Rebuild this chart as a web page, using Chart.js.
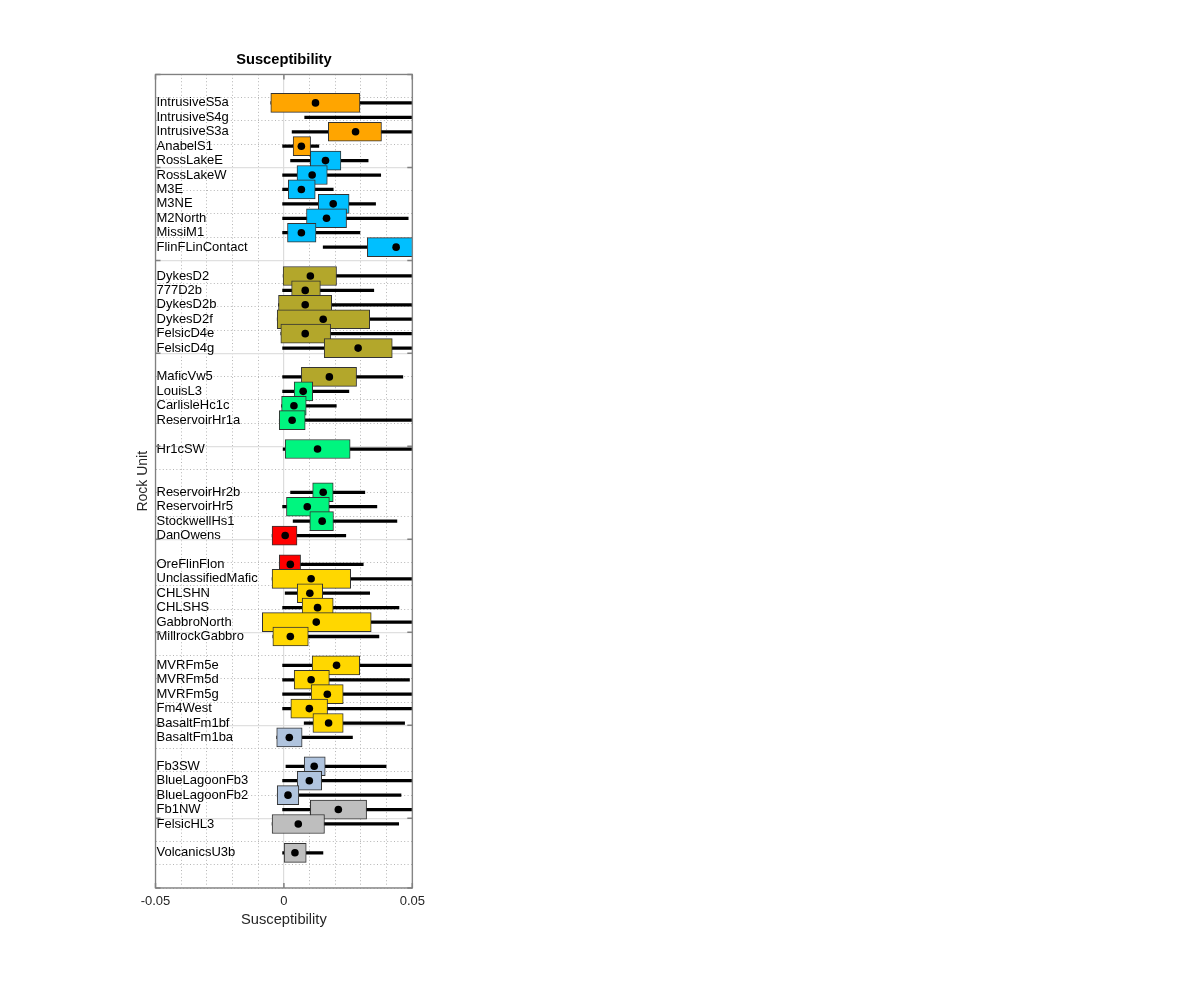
<!DOCTYPE html>
<html>
<head>
<meta charset="utf-8">
<title>Susceptibility</title>
<script src="https://cdn.jsdelivr.net/npm/chart.js@4.4.1/dist/chart.umd.min.js"></script>
<style>
  html, body { margin: 0; padding: 0; background: #fff; }
</style>
</head>
<body>
<canvas id="chart" width="1200" height="999"></canvas>
<script>
// rows top to bottom, '' = empty row
const units = [
  'IntrusiveS5a', 'IntrusiveS4g', 'IntrusiveS3a', 'AnabelS1', 'RossLakeE', 'RossLakeW', 'M3E', 'M3NE',
  'M2North', 'MissiM1', 'FlinFLinContact', '',
  'DykesD2', '777D2b', 'DykesD2b', 'DykesD2f', 'FelsicD4e', 'FelsicD4g', '',
  'MaficVw5', 'LouisL3', 'CarlisleHc1c', 'ReservoirHr1a', '',
  'Hr1cSW', '', '',
  'ReservoirHr2b', 'ReservoirHr5', 'StockwellHs1', 'DanOwens', '',
  'OreFlinFlon', 'UnclassifiedMafic', 'CHLSHN', 'CHLSHS', 'GabbroNorth', 'MillrockGabbro', '',
  'MVRFm5e', 'MVRFm5d', 'MVRFm5g', 'Fm4West', 'BasaltFm1bf', 'BasaltFm1ba', '',
  'Fb3SW', 'BlueLagoonFb3', 'BlueLagoonFb2', 'Fb1NW', 'FelsicHL3', '',
  'VolcanicsU3b'
];
const groups = [
  'orange', 'orange', 'orange', 'orange', 'blue', 'blue', 'blue', 'blue',
  'blue', 'blue', 'blue', null,
  'olive', 'olive', 'olive', 'olive', 'olive', 'olive', null,
  'olive', 'green', 'green', 'green', null,
  'green', null, null,
  'green', 'green', 'green', 'red', null,
  'red', 'gold', 'gold', 'gold', 'gold', 'gold', null,
  'gold', 'gold', 'gold', 'gold', 'gold', 'steel', null,
  'steel', 'steel', 'steel', 'grey', 'grey', null,
  'grey'
];
const whiskerLow = [
  -0.0051, 0.0081, 0.0032, -0.0005, 0.0026, -0.0005, -0.0005, -0.0005,
  -0.0005, -0.0005, 0.0153, null,
  -0.0003, -0.0005, -0.0021, -0.0026, -0.0012, -0.0005, null,
  -0.0005, -0.0005, -0.0009, -0.0018, null,
  -0.0003, null, null,
  0.0026, -0.0005, 0.0036, -0.0046, null,
  -0.0018, -0.0046, 0.0005, -0.0005, -0.0084, -0.0043, null,
  -0.0005, -0.0005, -0.0005, -0.0005, 0.0079, -0.0028, null,
  0.0008, -0.0005, -0.0026, -0.0005, -0.0046, null,
  -0.0005
];
const boxLow = [
  -0.0051, 0.056, 0.0173, 0.0036, 0.0103, 0.0051, 0.0017, 0.0134,
  0.0088, 0.0014, 0.0325, null,
  -0.0003, 0.0030, -0.0021, -0.0026, -0.0012, 0.0157, null,
  0.0068, 0.0040, -0.0009, -0.0018, null,
  0.0005, null, null,
  0.0112, 0.0010, 0.0101, -0.0046, null,
  -0.0018, -0.0046, 0.0052, 0.0071, -0.0084, -0.0043, null,
  0.0110, 0.0040, 0.0106, 0.0027, 0.0113, -0.0028, null,
  0.0079, 0.0052, -0.0026, 0.0103, -0.0046, null,
  0.0001
];
const median = [
  0.0123, 0.070, 0.0279, 0.0068, 0.0162, 0.0110, 0.0068, 0.0192,
  0.0166, 0.0068, 0.0437, null,
  0.0103, 0.0083, 0.0083, 0.0153, 0.0083, 0.0289, null,
  0.0177, 0.0075, 0.0039, 0.0032, null,
  0.0131, null, null,
  0.0153, 0.0091, 0.0149, 0.0005, null,
  0.0025, 0.0106, 0.0101, 0.0131, 0.0126, 0.0025, null,
  0.0205, 0.0106, 0.0169, 0.0099, 0.0174, 0.0021, null,
  0.0118, 0.0099, 0.0016, 0.0212, 0.0056, null,
  0.0043
];
const boxHigh = [
  0.0296, 0.090, 0.0380, 0.0104, 0.0222, 0.0169, 0.0122, 0.0254,
  0.0244, 0.0125, 0.056, null,
  0.0205, 0.0142, 0.0186, 0.0334, 0.0182, 0.0422, null,
  0.0283, 0.0112, 0.0087, 0.0083, null,
  0.0258, null, null,
  0.0192, 0.0177, 0.0193, 0.0051, null,
  0.0065, 0.0260, 0.0151, 0.0192, 0.0340, 0.0095, null,
  0.0295, 0.0177, 0.0231, 0.0170, 0.0231, 0.0071, null,
  0.0161, 0.0147, 0.0058, 0.0322, 0.0158, null,
  0.0087
];
const whiskerHigh = [
  0.09, 0.13, 0.08, 0.0136, 0.0328, 0.0377, 0.0192, 0.0357,
  0.0484, 0.0296, 0.09, null,
  0.08, 0.0350, 0.08, 0.09, 0.08, 0.09, null,
  0.0463, 0.0253, 0.0204, 0.08, null,
  0.08, null, null,
  0.0315, 0.0362, 0.0440, 0.0241, null,
  0.0309, 0.08, 0.0334, 0.0448, 0.08, 0.0370, null,
  0.08, 0.0489, 0.08, 0.08, 0.0470, 0.0267, null,
  0.0398, 0.08, 0.0456, 0.08, 0.0447, null,
  0.0152
];
const xTicks = [-0.05, 0, 0.05];
const xTickLabels = ['-0.05', '0', '0.05'];

const groupColors = {
  orange: '#ffa500',
  blue: '#00bfff',
  olive: '#b3a72b',
  green: '#00f57f',
  red: '#ff0000',
  gold: '#ffd700',
  steel: '#b0c4de',
  grey: '#bebebe'
};

const FONT = "'Liberation Sans', Arial, Helvetica, sans-serif";

const rows = units.map((u, i) => i).filter(i => units[i] !== '');

// frame and inward tick marks like the original axes box
const frame = {
  id: 'frame',
  afterDraw(chart) {
    const { ctx, chartArea: a, scales } = chart;
    ctx.save();
    ctx.strokeStyle = '#808080';
    ctx.lineWidth = 1.5;
    ctx.beginPath();
    scales.yMajor.ticks.forEach(t => {
      const py = scales.yMajor.getPixelForValue(t.value);
      ctx.moveTo(a.left, py); ctx.lineTo(a.left + 5, py);
      ctx.moveTo(a.right, py); ctx.lineTo(a.right - 5, py);
    });
    scales.x.ticks.forEach(t => {
      const px = scales.x.getPixelForValue(t.value);
      ctx.moveTo(px, a.top); ctx.lineTo(px, a.top + 5);
      ctx.moveTo(px, a.bottom); ctx.lineTo(px, a.bottom - 5);
    });
    ctx.stroke();
    ctx.lineWidth = 1.3;
    ctx.strokeRect(a.left, a.top, a.right - a.left, a.bottom - a.top);
    ctx.restore();
  }
};

new Chart(document.getElementById('chart'), {
  type: 'bar',
  data: {
    datasets: [
      {
        type: 'scatter',
        data: rows.map(i => ({ x: median[i], y: i })),
        xAxisID: 'x',
        yAxisID: 'y',
        pointRadius: 3.8,
        pointBackgroundColor: '#000',
        pointBorderWidth: 0,
        clip: 0,
        order: 0
      },
      {
        type: 'bar',
        indexAxis: 'y',
        data: rows.map(i => ({ x: [boxLow[i], boxHigh[i]], y: i })),
        xAxisID: 'x',
        yAxisID: 'y',
        backgroundColor: rows.map(i => groupColors[groups[i]]),
        borderColor: '#333',
        borderWidth: 1,
        borderSkipped: false,
        barThickness: 19,
        grouped: false,
        clip: 0,
        order: 1
      },
      {
        type: 'bar',
        indexAxis: 'y',
        data: rows.map(i => ({ x: [whiskerLow[i], whiskerHigh[i]], y: i })),
        xAxisID: 'x',
        yAxisID: 'y',
        backgroundColor: '#000',
        borderWidth: 0,
        barThickness: 2.6,
        grouped: false,
        clip: 0,
        order: 2
      }
    ]
  },
  options: {
    responsive: false,
    animation: false,
    layout: {
      autoPadding: false,
      padding: { left: 134.6, right: 787.7, top: 51.2, bottom: 69 }
    },
    plugins: {
      legend: { display: false },
      tooltip: { enabled: false },
      title: {
        display: true,
        text: 'Susceptibility',
        fullSize: false,
        color: '#000',
        font: { family: FONT, size: 14.7, weight: 'bold' },
        padding: { top: 0, bottom: 5.6 }
      }
    },
    scales: {
      xMinor: {
        type: 'linear',
        position: 'bottom',
        offset: false,
        min: -0.05, max: 0.05,
        ticks: { display: false, stepSize: 0.01 },
        grid: { color: '#b5b5b5', lineWidth: 1, drawTicks: false, offset: false },
        border: { display: false, dash: [1, 2.4] },
        afterFit: s => { s.height = 0; }
      },
      yMinor: {
        type: 'linear',
        position: 'left',
        offset: false,
        reverse: true,
        min: 0, max: 35,
        ticks: { display: false, stepSize: 1 },
        grid: { color: '#b5b5b5', lineWidth: 1, drawTicks: false, offset: false },
        border: { display: false, dash: [1, 2.4] },
        afterFit: s => { s.width = 0; }
      },
      yMajor: {
        type: 'linear',
        position: 'left',
        offset: false,
        reverse: true,
        min: 0, max: 35,
        ticks: { display: false, stepSize: 4 },
        grid: { color: '#e0e0e0', lineWidth: 1.2, drawTicks: false, offset: false },
        border: { display: false },
        afterFit: s => { s.width = 0; }
      },
      x: {
        type: 'linear',
        position: 'bottom',
        offset: false,
        min: -0.05, max: 0.05,
        afterBuildTicks: s => { s.ticks = xTicks.map(v => ({ value: v })); },
        ticks: {
          color: '#262626',
          padding: 6,
          font: { family: FONT, size: 13 },
          callback: (v, i) => xTickLabels[i]
        },
        grid: { color: '#dcdcdc', lineWidth: 1.2, drawTicks: false, offset: false },
        border: { display: false },
        title: {
          display: true,
          text: 'Susceptibility',
          color: '#262626',
          font: { family: FONT, size: 14.7 },
          padding: { top: 0, bottom: 1.6 }
        },
        afterFit: s => { s.height = 42; }
      },
      y: {
        type: 'linear',
        position: 'left',
        offset: false,
        reverse: true,
        min: -1.975, max: 54.44,
        afterBuildTicks: s => { s.ticks = rows.map(i => ({ value: i })); },
        ticks: {
          mirror: true,
          autoSkip: false,
          padding: 1,
          color: '#000',
          font: { family: FONT, size: 13 },
          callback: v => units[v]
        },
        grid: { display: false, drawTicks: false, offset: false },
        border: { display: false },
        title: {
          display: true,
          text: 'Rock Unit',
          color: '#262626',
          font: { family: FONT, size: 14 },
          padding: { top: 0, bottom: 4 }
        },
        afterFit: s => { s.width = 20.9; }
      }
    }
  },
  plugins: [frame]
});
</script>
</body>
</html>
